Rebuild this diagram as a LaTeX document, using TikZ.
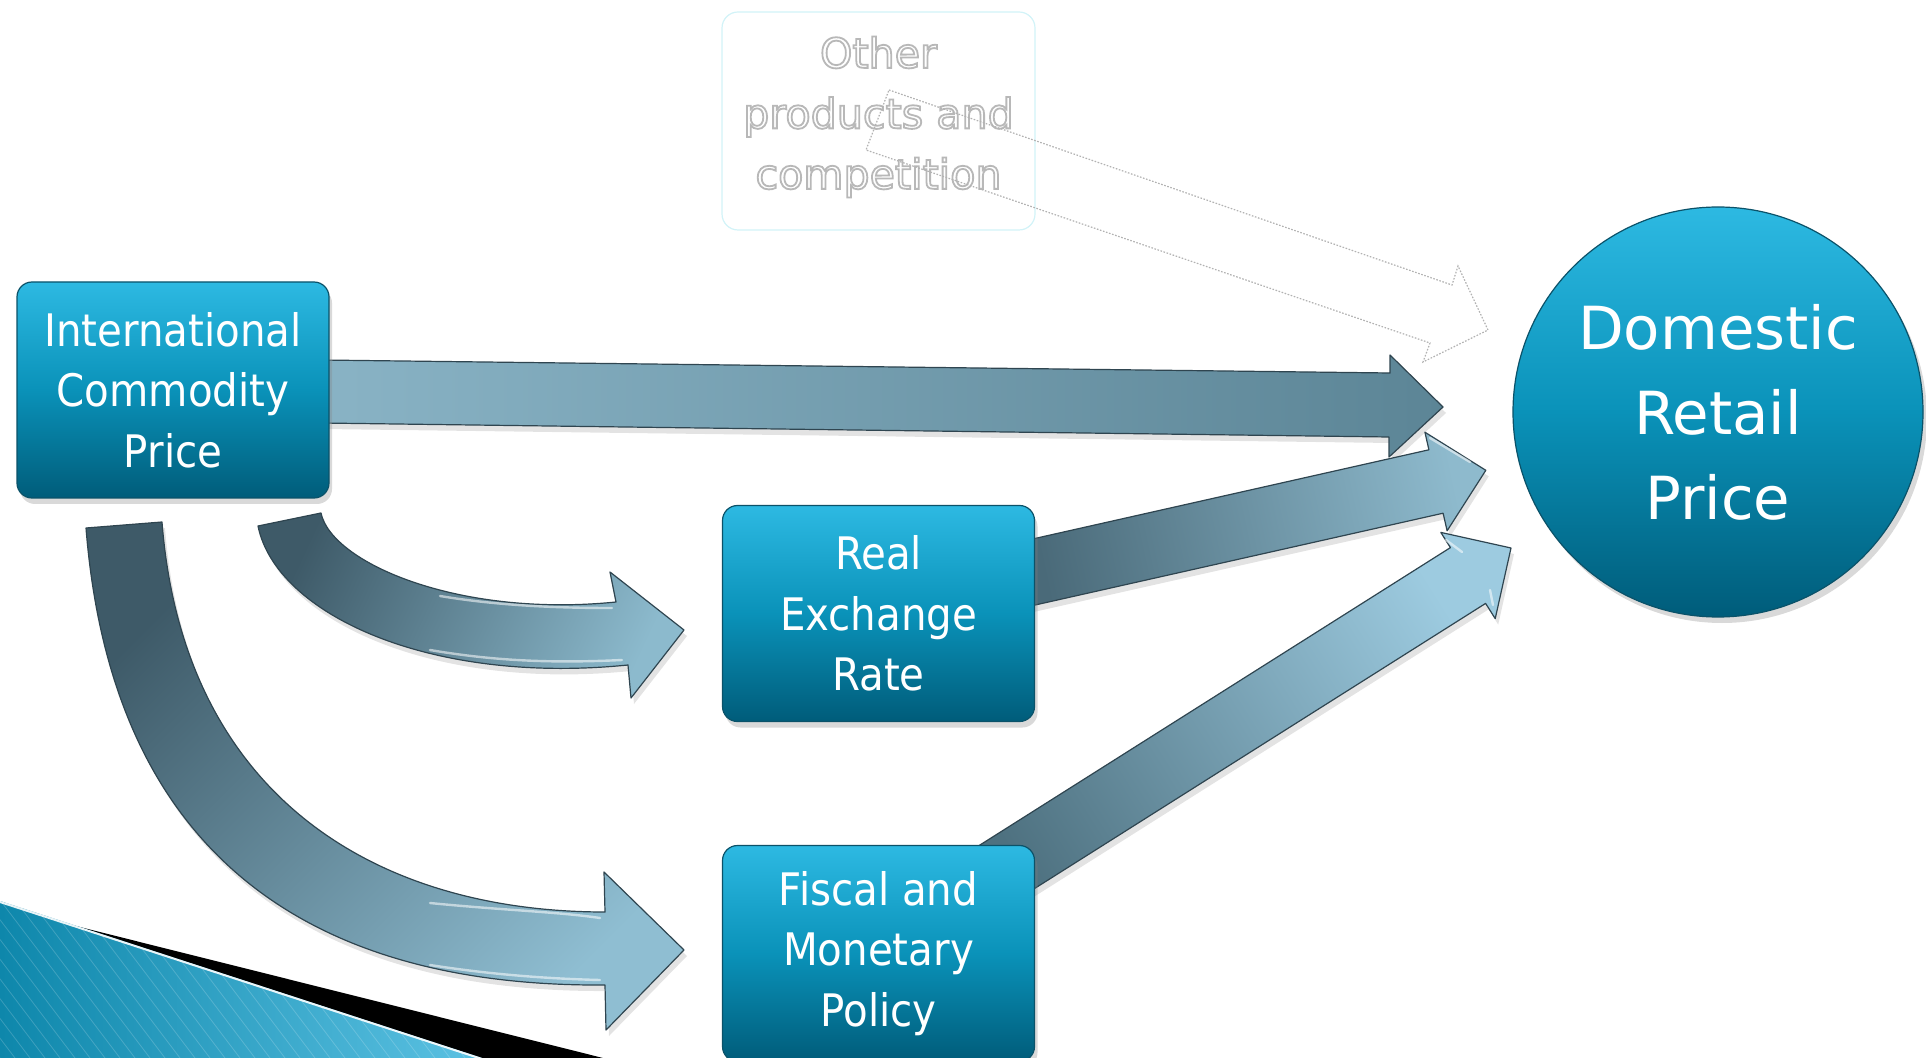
\documentclass[tikz,border=0pt]{standalone}
\usepackage{fontspec}
\setmainfont{DejaVu Sans}
\newfontfamily\boxfont[FakeStretch=0.9]{DejaVu Sans}
\usetikzlibrary{shadows}
\definecolor{boxtop}{HTML}{2DB9E2}
\definecolor{boxmid}{HTML}{0A92B9}
\definecolor{boxbot}{HTML}{005C7A}
\definecolor{boxedge}{HTML}{0B5269}
\definecolor{arredge}{HTML}{2F4550}
\definecolor{decoblue}{HTML}{0E87AB}
\definecolor{decolight}{HTML}{5CC2E3}
\newcommand{\glowon}{\special{pdf:literal direct 2 Tr 0.9 w 0.72 0.72 0.72 RG}}
\newcommand{\glowoff}{\special{pdf:literal direct 0 Tr}}
\tikzset{
  boxnode/.style={rectangle, rounded corners=7.5pt, minimum width=156pt, minimum height=108pt,
    top color=boxtop, bottom color=boxbot, middle color=boxmid, draw=boxedge, line width=0.6pt,
    text=white, font=\boxfont\fontsize{22.4}{30.25}\selectfont, align=center, inner sep=0pt,
    drop shadow={opacity=0.3, shadow xshift=1.5pt, shadow yshift=-3pt}},
  circnode/.style={circle, minimum size=205pt, inner sep=0pt,
    top color=boxtop, bottom color=boxbot, middle color=boxmid, draw=boxedge, line width=0.6pt,
    text=white, font=\fontsize{29.7}{42.5}\selectfont, align=center,
    drop shadow={opacity=0.3, shadow xshift=2pt, shadow yshift=-3pt}},
  othernode/.style={rectangle, rounded corners=8pt, minimum width=156.5pt, minimum height=109pt,
    draw={rgb,255:red,210;green,243;blue,248}, line width=0.6pt, fill=white},
  othertext/.style={align=center, font=\fontsize{20.6}{30.25}\selectfont, text=white},
  blockarrow/.style={draw=arredge, line width=0.6pt, line join=round,
    drop shadow={opacity=0.22, shadow xshift=1.5pt, shadow yshift=-3pt}},
  highlight/.style={draw=white, line width=1.2pt, opacity=0.55, line cap=round},
  dotarrow/.style={draw=gray!60, line width=0.6pt, dash pattern=on 0.8pt off 0.8pt}
}
\begin{document}
\begin{tikzpicture}[x=0.5pt,y=-0.5pt]
\useasboundingbox (0,0) rectangle (1926,1058);
\clip (0,0) rectangle (1926,1058);

% bottom-left decoration
\fill[black] (0,907) -- (603,1058) -- (0,1058) -- cycle;
\begin{scope}
  \clip (0,901) -- (482,1058) -- (0,1058) -- cycle;
  \shade[left color=decoblue, right color=decolight] (0,900) rectangle (483,1058);
  \foreach \i in {-300,-285,...,500}
    \draw[white, opacity=0.18, line width=0.4pt] (\i,900) -- ++(120,158);
\end{scope}
\draw[white, line width=1pt, opacity=0.9] (0,902) -- (482,1059);

% other products box and its faint arrow
\node[othernode] (oth) at (878.5,121) {};
\node[othertext] (othtext) at (878.5,117) {\glowon Other\\\glowon products and\\\glowon competition\glowoff};
\draw[dotarrow] (889,90) -- (1452,285) -- (1458,266) -- (1488,330) -- (1423,362) -- (1430,343) -- (866,150) -- cycle;

% curved arrows
\path[blockarrow, top color={rgb,255:red,62;green,90;blue,104}, bottom color={rgb,255:red,143;green,190;blue,210}, shading angle=45]
  (162,522) .. controls (183,791) and (370,912) .. (605,912) -- (604,872) -- (684,950) -- (606,1030) -- (605,985)
  .. controls (325,987) and (113,868) .. (86,528) -- cycle;
\draw[highlight] (430,903) .. controls (500,910) and (560,912) .. (600,918);
\draw[highlight] (430,965) .. controls (500,976) and (560,979) .. (600,980);
\path[blockarrow, top color={rgb,255:red,62;green,90;blue,104}, bottom color={rgb,255:red,140;green,186;blue,205}, shading angle=65]
  (321,513) .. controls (331,562) and (457,618) .. (616,602) -- (610,572) -- (684,630) -- (631,698) -- (628,665)
  .. controls (429,685) and (276,614) .. (258,526) -- cycle;
\draw[highlight] (440,596) .. controls (500,606) and (560,608) .. (612,608);
\draw[highlight] (430,650) .. controls (500,662) and (560,663) .. (622,660);

% straight arrows (behind boxes)
\path[blockarrow, left color={rgb,255:red,137;green,179;blue,197}, right color={rgb,255:red,92;green,133;blue,150}, shading angle=90]
  (320,360) -- (1390,373) -- (1390,355) -- (1443,407) -- (1389,457) -- (1389,437) -- (320,423) -- cycle;
\path[blockarrow, left color={rgb,255:red,74;green,106;blue,121}, right color={rgb,255:red,142;green,186;blue,205}, shading angle=102]
  (1009.4,544.2) -- (1428.9,449.8) -- (1424.9,432.2) -- (1485.8,470.3) -- (1447.1,530.8) -- (1443.1,513.2) -- (1023.6,607.6) -- cycle;
\draw[highlight] (1430,438) -- (1470,462);
\path[blockarrow, left color={rgb,255:red,78;green,113;blue,128}, right color={rgb,255:red,157;green,203;blue,224}, shading angle=122]
  (943.4,868.1) -- (1450.4,547.6) -- (1440.8,532.4) -- (1511,548) -- (1495.2,618.6) -- (1485.6,603.4) -- (978.6,923.9) -- cycle;
\draw[highlight] (1446,540) -- (1462,552);
\draw[highlight] (1490,590) -- (1493,605);

% boxes
\node[boxnode] (icp) at (173,390) {International\\Commodity\\Price};
\node[boxnode] (rer) at (878.5,613.5) {Real\\Exchange\\Rate};
\node[boxnode] (fmp) at (878.5,953.5) {Fiscal and\\Monetary\\Policy};
\node[circnode] (drp) at (1718,412) {Domestic\\Retail\\Price};
\end{tikzpicture}
\end{document}
